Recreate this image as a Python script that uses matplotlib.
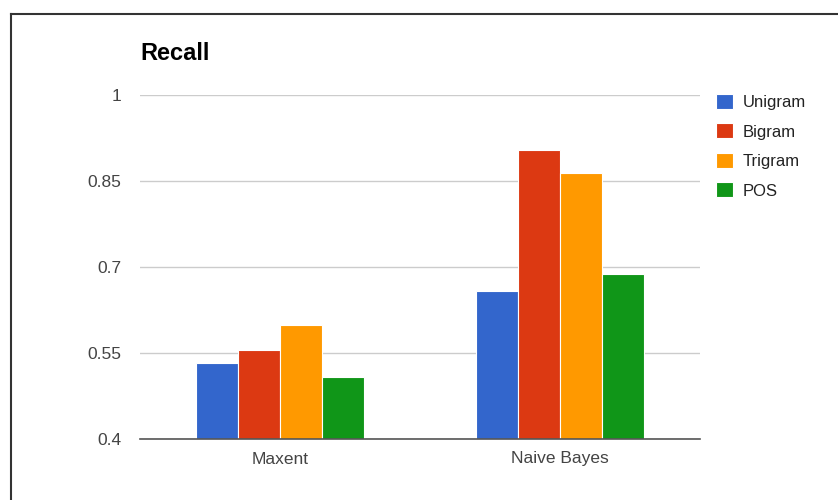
import numpy as np
import matplotlib
matplotlib.use("Agg")
import matplotlib.pyplot as plt
from matplotlib.lines import Line2D

# Données
categories = ["Maxent", "Naive Bayes"]
series_names = ["Unigram", "Bigram", "Trigram", "POS"]
unigram = [0.532, 0.658]
bigram = [0.555, 0.904]
trigram = [0.598, 0.864]
pos = [0.508, 0.687]
yticks = [0.4, 0.55, 0.7, 0.85, 1.0]
ytick_labels = ["0.4", "0.55", "0.7", "0.85", "1"]

colors = ["#3366cc", "#dc3912", "#ff9900", "#109618"]

plt.rcParams["font.family"] = ["Liberation Sans", "DejaVu Sans"]

fig = plt.figure(figsize=(8.38, 5), dpi=100)
ax = fig.add_axes([140 / 838, 1 - 439 / 500, 560 / 838, 344 / 500])

x = np.arange(len(categories))
width = 0.15
values = [unigram, bigram, trigram, pos]
for i, (name, vals) in enumerate(zip(series_names, values)):
    offset = (i - 1.5) * width
    ax.bar(x + offset, np.array(vals) - 0.4, width, bottom=0.4, color=colors[i],
           edgecolor="white", linewidth=0.8, label=name, zorder=3)

ax.set_xlim(-0.5, 1.5)
ax.set_ylim(0.4, 1.0)
ax.set_yticks(yticks)
ax.set_yticklabels(ytick_labels)
ax.set_xticks(x)
ax.set_xticklabels(categories)
ax.tick_params(axis="both", length=0, labelsize=12.5, labelcolor="#444444")
ax.tick_params(axis="y", pad=13.5)
ax.tick_params(axis="x", pad=9)
ax.grid(axis="y", color="#cccccc", linewidth=1, zorder=0)
for s in ["top", "right", "left"]:
    ax.spines[s].set_visible(False)
ax.spines["bottom"].set_color("#555555")
ax.spines["bottom"].set_linewidth(1.2)
ax.spines["bottom"].set_zorder(4)

fig.text(140 / 838, 1 - 53 / 500, "Recall", fontsize=17, fontweight="bold",
         va="center", ha="left", color="#000000")

leg = ax.legend(loc="upper left", bbox_to_anchor=(716 / 838, 1 - 94 / 500),
                bbox_transform=fig.transFigure, frameon=False, fontsize=12,
                handlelength=1.0, handleheight=1.0, handletextpad=0.6,
                labelspacing=0.8, borderaxespad=0, borderpad=0)
for t in leg.get_texts():
    t.set_color("#222222")

# cadre
fig.add_artist(Line2D([11 / 838, 11 / 838], [0, 1 - 14 / 500], transform=fig.transFigure,
                      color="#333333", linewidth=1.5))
fig.add_artist(Line2D([11 / 838, 1], [1 - 14 / 500, 1 - 14 / 500], transform=fig.transFigure,
                      color="#333333", linewidth=1.5))

fig.savefig("out.png", dpi=100)
